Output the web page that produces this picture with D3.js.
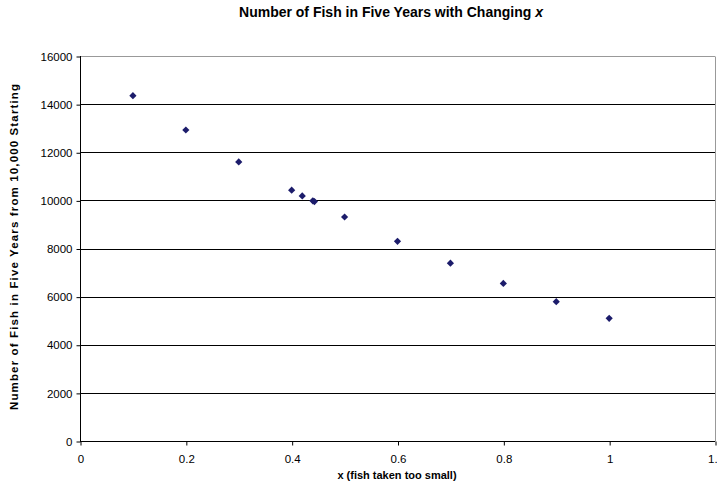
<!DOCTYPE html>
<html><head><meta charset="utf-8">
<script src="https://cdn.jsdelivr.net/npm/d3@7"></script>
<style>body{margin:0;background:#fff}svg{display:block}text{font-family:"Liberation Sans",Arial,sans-serif}</style>
</head><body>
<svg id="c" width="717" height="485"></svg>
<script>
const xValues = [0.1, 0.2, 0.3, 0.4, 0.42, 0.44, 0.443, 0.5, 0.6, 0.7, 0.8, 0.9, 1.0];
const fishValues = [14350, 12925, 11600, 10425, 10185, 9980, 9950, 9310, 8300, 7390, 6550, 5790, 5100];
const xTicks = [0, 0.2, 0.4, 0.6, 0.8, 1, 1.2];
const yTicks = [0, 2000, 4000, 6000, 8000, 10000, 12000, 14000, 16000];

const svg = d3.select("#c");
const L = 80, R = 715, T = 56, B = 441;
const x = d3.scaleLinear().domain([0, 1.2]).range([L, R]);
const y = d3.scaleLinear().domain([0, 16000]).range([B, T]);
const FONT = '"Liberation Sans",Arial,sans-serif';

// gridlines
svg.append("g").selectAll("line").data(yTicks.filter(d => d > 0)).join("line")
  .attr("x1", L).attr("x2", R).attr("y1", d => Math.round(y(d)) + 0.5).attr("y2", d => Math.round(y(d)) + 0.5)
  .attr("stroke", d => d === 16000 ? "#999" : "#000").attr("stroke-width", 1);
// right border
svg.append("line").attr("x1", R + 0.5).attr("x2", R + 0.5).attr("y1", T + 0.5).attr("y2", B + 0.5)
  .attr("stroke", "#999");

// axes
const yAxis = d3.axisLeft(y).tickValues(yTicks).tickSize(4).tickPadding(4).tickFormat(d3.format("d"));
const gy = svg.append("g").attr("transform", `translate(${L + 0.5},0.5)`).call(yAxis);
const xAxis = d3.axisBottom(x).tickValues(xTicks).tickSize(4).tickPadding(9).tickFormat(d => String(d));
const gx = svg.append("g").attr("transform", `translate(0.5,${B + 0.5})`).call(xAxis);
[gy, gx].forEach(g => {
  g.select(".domain").remove();
  g.selectAll(".tick line").attr("stroke", "#000");
  g.selectAll(".tick text").attr("font-size", 11.5).attr("fill", "#000").style("font-family", FONT);
});
svg.append("line").attr("x1", L + 0.5).attr("x2", L + 0.5).attr("y1", T).attr("y2", B + 1).attr("stroke", "#000");
svg.append("line").attr("x1", L).attr("x2", R).attr("y1", B + 0.5).attr("y2", B + 0.5).attr("stroke", "#000");

// points (diamonds)
const r = 3.6;
svg.append("g").selectAll("path").data(xValues.map((v, i) => [v, fishValues[i]])).join("path")
  .attr("d", `M0,${-r}L${r},0L0,${r}L${-r},0Z`)
  .attr("transform", d => `translate(${x(d[0])},${y(d[1])})`)
  .attr("fill", "#1c1c6b");

// titles
const title = svg.append("text").attr("x", 391).attr("y", 17).attr("text-anchor", "middle")
  .attr("font-size", 14).attr("font-weight", "bold");
title.append("tspan").text("Number of Fish in Five Years with Changing ");
title.append("tspan").attr("font-style", "italic").text("x");

svg.append("text").attr("x", 397).attr("y", 479).attr("text-anchor", "middle")
  .attr("font-size", 11).attr("font-weight", "bold").text("x (fish taken too small)");

svg.append("text").attr("transform", "translate(18,247) rotate(-90)").attr("text-anchor", "middle")
  .attr("font-size", 11.5).attr("font-weight", "bold")
  .attr("textLength", 326).attr("lengthAdjust", "spacing")
  .text("Number of Fish in Five Years from 10,000 Starting");
</script>
</body></html>
